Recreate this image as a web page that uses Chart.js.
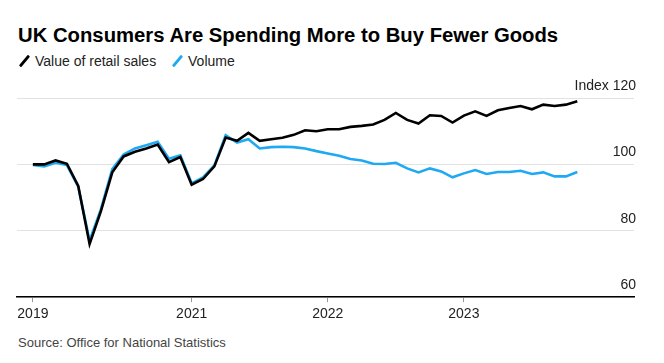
<!DOCTYPE html>
<html>
<head>
<meta charset="utf-8">
<script src="https://cdn.jsdelivr.net/npm/chart.js@4.4.0/dist/chart.umd.min.js"></script>
<style>
  body { margin: 0; background: #fff; font-family: "Liberation Sans", Arial, sans-serif; }
  #wrap { position: relative; width: 664px; height: 363px; overflow: hidden; }
  #title { position: absolute; left: 18px; top: 24px; font-size: 20.3px; font-weight: bold; color: #000; white-space: nowrap; }
  #legend { position: absolute; left: 17px; top: 53px; font-size: 14px; line-height: 16px; color: #222; white-space: nowrap; }
  #legend .item { display: inline-block; margin-right: 10px; }
  #legend .slash { display: inline-block; width: 3px; height: 14px; vertical-align: -2px; margin: 0 9px 0 6px; transform: rotate(40deg); border-radius: 1px; }
  #source { position: absolute; left: 18px; top: 335px; font-size: 13px; line-height: 15px; color: #444; white-space: nowrap; }
  #box { position: absolute; left: 0; top: 70px; width: 664px; height: 260px; }
</style>
</head>
<body>
<div id="wrap">
  <div id="title">UK Consumers Are Spending More to Buy Fewer Goods</div>
  <div id="legend">
    <span class="item"><span class="slash" style="background:#000"></span>Value of retail sales</span>
    <span class="item"><span class="slash" style="background:#1fa9f2"></span>Volume</span>
  </div>
  <div id="box"><canvas id="chart"></canvas></div>
  <div id="source">Source: Office for National Statistics</div>
</div>
<script>
// monthly, Nov 2019 - Nov 2023 (index, Feb 2020 ~ 100)
const months = [
  'Nov 2019','Dec 2019',
  'Jan 2020','Feb 2020','Mar 2020','Apr 2020','May 2020','Jun 2020','Jul 2020','Aug 2020','Sep 2020','Oct 2020','Nov 2020','Dec 2020',
  'Jan 2021','Feb 2021','Mar 2021','Apr 2021','May 2021','Jun 2021','Jul 2021','Aug 2021','Sep 2021','Oct 2021','Nov 2021','Dec 2021',
  'Jan 2022','Feb 2022','Mar 2022','Apr 2022','May 2022','Jun 2022','Jul 2022','Aug 2022','Sep 2022','Oct 2022','Nov 2022','Dec 2022',
  'Jan 2023','Feb 2023','Mar 2023','Apr 2023','May 2023','Jun 2023','Jul 2023','Aug 2023','Sep 2023','Oct 2023','Nov 2023'
];
const valueSales = [
  100.0, 100.0,
  101.2, 100.2, 93.5, 76.0, 85.9, 97.6, 102.4, 103.8, 104.8, 106.0, 100.7, 102.2,
  93.9, 95.6, 99.4, 108.1, 107.1, 109.5, 107.1, 107.6, 108.0, 108.9, 110.3, 110.0,
  110.6, 110.6, 111.3, 111.6, 112.0, 113.4, 115.5, 113.4, 112.3, 114.8, 114.6, 112.6,
  114.7, 116.0, 114.6, 116.3, 117.0, 117.6, 116.6, 118.0, 117.6, 118.0, 119.0
];
const volume = [
  99.8, 99.4,
  100.5, 99.8, 93.3, 77.0, 86.5, 98.6, 103.0, 104.8, 105.8, 106.8, 101.7, 102.7,
  94.3, 96.1, 99.7, 108.8, 106.6, 107.6, 104.8, 105.2, 105.3, 105.2, 104.8, 104.0,
  103.3, 102.6, 101.6, 101.2, 100.2, 100.1, 100.5, 98.8, 97.6, 98.8, 97.9, 96.1,
  97.3, 98.3, 97.1, 97.7, 97.7, 98.1, 97.1, 97.6, 96.4, 96.4, 97.7
];
const yearTicks = [0, 14, 26, 38];          // positions in months[]
const yearLabels = ['2019', '2021', '2022', '2023'];
const yTicks = [60, 80, 100, 120];

const toPoints = arr => arr.map((v, i) => ({ x: i, y: v }));

new Chart(document.getElementById('chart'), {
  type: 'line',
  data: {
    datasets: [{
      label: 'Value of retail sales',
      data: toPoints(valueSales),
      borderColor: '#000',
      borderWidth: 2.6,
      pointRadius: 0,
      tension: 0
    },
    {
      label: 'Volume',
      data: toPoints(volume),
      borderColor: '#1fa9f2',
      borderWidth: 2.6,
      pointRadius: 0,
      tension: 0
    }]
  },
  options: {
    responsive: true,
    maintainAspectRatio: false,
    animation: false,
    layout: { padding: { left: 17, right: 26, top: 28, bottom: 3 } },
    plugins: {
      legend: { display: false },
      tooltip: { enabled: false }
    },
    scales: {
      x: {
        type: 'linear',
        min: -1.4,
        max: 53.0,
        afterBuildTicks: s => { s.ticks = yearTicks.map(v => ({ value: v })); },
        ticks: {
          autoSkip: false,
          maxRotation: 0,
          padding: 4,
          color: '#222',
          font: { size: 14, family: 'Liberation Sans' },
          callback: v => yearLabels[yearTicks.indexOf(v)]
        },
        grid: { drawOnChartArea: false, tickLength: 5, tickColor: '#999' },
        border: { color: '#000', width: 1.5 }
      },
      y: {
        position: 'right',
        min: 60,
        max: 120,
        afterBuildTicks: s => { s.ticks = yTicks.map(v => ({ value: v })); },
        ticks: {
          mirror: true,
          padding: 2,
          labelOffset: -12,
          color: '#222',
          font: { size: 14, family: 'Liberation Sans' },
          callback: v => v === 120 ? 'Index 120' : String(v)
        },
        grid: { color: '#e2e2e2', lineWidth: 1, drawTicks: false },
        border: { display: false }
      }
    }
  }
});
</script>
</body>
</html>
